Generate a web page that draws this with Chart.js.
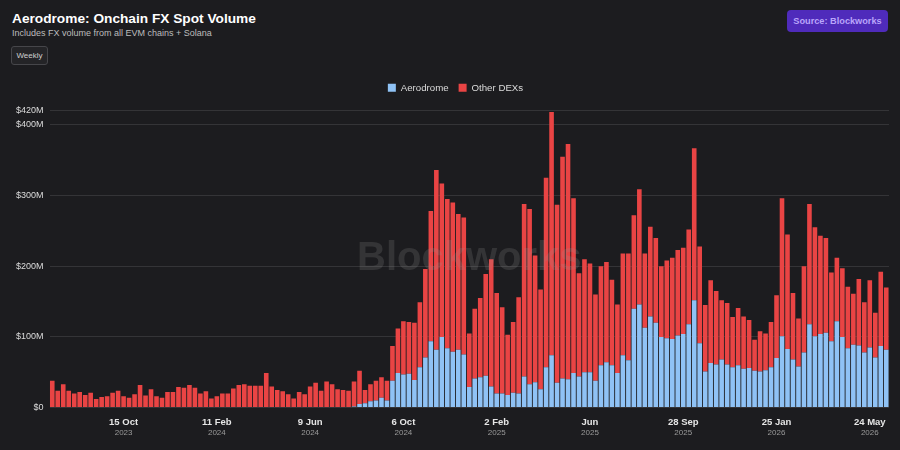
<!DOCTYPE html>
<html>
<head>
<meta charset="utf-8">
<script src="https://cdn.jsdelivr.net/npm/chart.js@4.4.1/dist/chart.umd.min.js"></script>
<style>
  html, body { margin:0; padding:0; background:#1c1c1f; }
  body { width:900px; height:450px; position:relative; overflow:hidden; font-family:"Liberation Sans", Arial, Helvetica, sans-serif; }
  #title { position:absolute; left:12px; top:11px; color:#ffffff; font-weight:bold; font-size:13.7px; white-space:nowrap; }
  #subtitle { position:absolute; left:12px; top:28px; color:#bdbdbd; font-size:9px; white-space:nowrap; }
  #weekly { position:absolute; left:11px; top:46px; width:35px; height:17px; border:1px solid #46464a; border-radius:3px; background:#242427; color:#cfcfcf; font-size:8px; line-height:17px; text-align:center; }
  #source { position:absolute; left:787px; top:10px; width:101px; height:22px; border-radius:4px; background:#4f2bbb; color:#b9a5fa; font-weight:bold; font-size:9.2px; line-height:22px; text-align:center; }
  #c { position:absolute; left:0; top:0; }
</style>
</head>
<body>
<div id="title">Aerodrome: Onchain FX Spot Volume</div>
<div id="subtitle">Includes FX volume from all EVM chains + Solana</div>
<div id="weekly">Weekly</div>
<div id="source">Source: Blockworks</div>
<canvas id="c" width="900" height="450"></canvas>
<script>
// ---- data (values in $M, weekly) ----
const startWeek = '2023-07-16';
const weekCount = 153;

const aerodrome = [
  0,0,0,0,0,0,0,0,0,0,
  0,0,0,0,0,0,0,0,0,0,
  0,0,0,0,0,0,0,0,0,0,
  0,0,0,0,0,0,0,0,0,0,
  0,0,0,0,0,0,0,0,0,0,
  0,0,0,0,0,1.5,5,6,9,10,
  14,10,38,49,47,48,39,57,71,94,
  82,100,84,79,82,75,29,41,43,45,
  30,20,20,18,21,20,44,33,36,26,
  57,74,35,41,40,49,44,50,50,38,
  60,64,60,49,74,67,140,146,113,129,
  120,100,98,97,102,104,118,152,91,51,
  63,61,68,61,57,60,55,56,52,51,
  53,57,70,101,83,68,58,78,118,101,
  104,106,94,122,100,84,89,88,78,85,
  71,87,82
];

const otherDexs = [
  38,24,33,24,20,22,18,21,12,15,
  16,21,24,16,14,19,32,17,26,16,
  14,22,22,29,28,32,28,20,23,13,
  16,20,20,27,32,33,31,31,31,49,
  30,25,23,19,13,22,19,30,35,24,
  37,33,26,25,24,35.5,47,19,24,28,
  29,28,49,63,75,73,81,92,125,184,
  254,217,211,211,192,194,76,99,112,144,
  180,142,122,85,100,136,244,248,179,141,
  268,344,252,314,333,247,146,160,154,122,
  140,142,121,97,144,151,132,163,105,127,
  120,100,110,115,121,122,134,215,137,94,
  117,104,84,87,71,81,74,68,44,57,
  52,64,89,195,162,94,68,122,170,154,
  139,134,97,90,97,87,72,94,71,95,
  63,105,88
];

const tickDates = ['2023-10-15','2024-02-11','2024-06-09','2024-10-06','2025-02-02','2025-06-01','2025-09-28','2026-01-25','2026-05-24'];
const tickMain  = ['15 Oct','11 Feb','9 Jun','6 Oct','2 Feb','Jun','28 Sep','25 Jan','24 May'];
const tickYear  = ['2023','2024','2024','2024','2025','2025','2025','2026','2026'];

const yTicks = [0,100,200,300,400,420];

// ---- categories ----
const weeks = [];
{
  const d0 = new Date(startWeek + 'T00:00:00Z');
  for (let i = 0; i < weekCount; i++) {
    const d = new Date(d0.getTime() + i * 7 * 86400000);
    weeks.push(d.toISOString().slice(0,10));
  }
}

const BLUE = '#8fc2f5';
const RED = '#e94444';
const FONT = "'Liberation Sans', Arial, Helvetica, sans-serif";
Chart.defaults.font.family = FONT;

const watermark = {
  id: 'watermark',
  afterDatasetsDraw(chart) {
    const {ctx, chartArea} = chart;
    ctx.save();
    ctx.font = 'bold 40px ' + FONT;
    ctx.fillStyle = 'rgba(150,150,150,0.2)';
    ctx.textAlign = 'center';
    ctx.textBaseline = 'middle';
    ctx.fillText('Blockworks', (chartArea.left + chartArea.right) / 2, (chartArea.top + chartArea.bottom) / 2);
    ctx.restore();
  }
};

const legendMargin = {
  id: 'legendMargin',
  beforeInit(chart) {
    const fit = chart.legend.fit;
    chart.legend.fit = function() { fit.call(this); this.height += 8; };
  },
  afterLayout(chart) {
    chart.legend.left += 6;
    chart.legend.right += 6;
  }
};

new Chart(document.getElementById('c'), {
  type: 'bar',
  data: {
    labels: weeks,
    datasets: [
      { label: 'Aerodrome', data: aerodrome, backgroundColor: BLUE, stack: 's', barPercentage: 0.84, categoryPercentage: 1 },
      { label: 'Other DEXs', data: otherDexs, backgroundColor: RED, stack: 's', barPercentage: 0.84, categoryPercentage: 1 }
    ]
  },
  options: {
    responsive: false,
    animation: false,
    layout: { padding: { left: 10, right: 11, top: 73, bottom: 13 } },
    plugins: {
      legend: {
        position: 'top',
        labels: { boxWidth: 8, boxHeight: 8, color: '#dcdcdc', font: { size: 9.7 }, padding: 10 }
      },
      tooltip: { enabled: false }
    },
    scales: {
      x: {
        stacked: true,
        grid: { display: false, drawTicks: false },
        border: { display: false },
        ticks: {
          autoSkip: false, maxRotation: 0, minRotation: 0,
          color: '#e6e6e6', font: { size: 9.5, weight: 'bold' }, padding: 9,
          callback: function(v, i) { const k = tickDates.indexOf(weeks[i]); return k >= 0 ? tickMain[k] : null; }
        }
      },
      x2: {
        type: 'category',
        position: 'bottom',
        grid: { display: false, drawTicks: false },
        border: { display: false },
        ticks: {
          autoSkip: false, maxRotation: 0, minRotation: 0,
          color: '#9a9a9a', font: { size: 8 }, padding: -9,
          callback: function(v, i) { const k = tickDates.indexOf(weeks[i]); return k >= 0 ? tickYear[k] : null; }
        }
      },
      y: {
        stacked: true,
        min: 0, max: 420,
        afterBuildTicks: function(scale) { scale.ticks = yTicks.map(v => ({ value: v })); },
        grid: { color: 'rgba(255,255,255,0.11)', drawTicks: false },
        border: { display: false },
        ticks: {
          color: '#dcdcdc', font: { size: 9 }, padding: 6,
          callback: function(v) { return v === 0 ? '$0' : '$' + v + 'M'; }
        }
      }
    }
  },
  plugins: [watermark, legendMargin]
});
</script>
</body>
</html>
